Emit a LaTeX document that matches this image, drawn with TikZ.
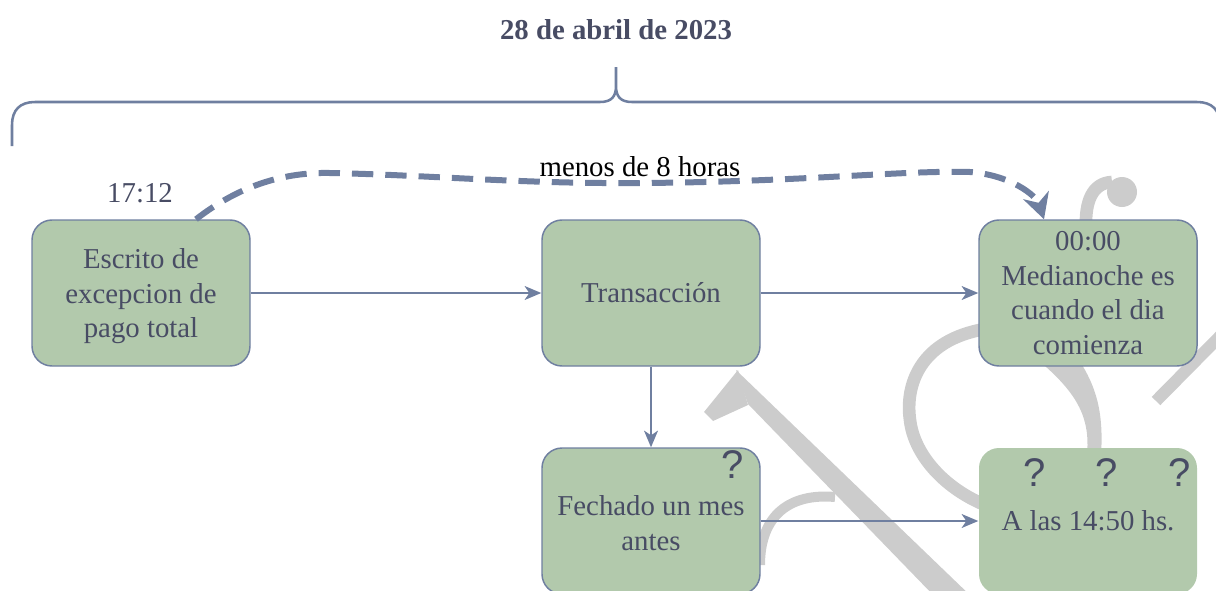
\documentclass[tikz,border=0pt]{standalone}
\usepackage{fontspec}
\setmainfont{Liberation Serif}
\newfontfamily\qfont{Liberation Sans}
\usetikzlibrary{arrows.meta,calc}
\definecolor{boxfill}{RGB}{178,201,172}
\definecolor{edgec}{RGB}{111,127,160}
\definecolor{txtc}{RGB}{72,76,100}
\definecolor{wm}{RGB}{204,204,204}
\begin{document}
\begin{tikzpicture}[x=0.75pt,y=-0.75pt,
  box/.style={draw=edgec, line width=1.1pt, fill=boxfill, rounded corners=15pt,
    minimum width=163.5pt, minimum height=109.5pt, inner sep=0pt, align=center,
    text=txtc, font=\fontsize{21.6}{25.8}\selectfont},
  conn/.style={draw=edgec, line width=1.1pt, -{Stealth[length=12.5pt,width=10.5pt,inset=3.5pt]}},
  dashline/.style={draw=edgec, line width=4.5pt, dash pattern=on 16pt off 9pt,
    -{Stealth[length=19pt,width=20pt,inset=6pt]}},
  bracestyle/.style={draw=edgec, line width=1.9pt},
  lbl/.style={font=\fontsize{21.6}{25}\selectfont, inner sep=0pt},
  qmark/.style={font=\qfont\fontsize{30}{30}\selectfont, text=txtc, inner sep=0pt}]
\useasboundingbox (0,0) rectangle (1216,590);
% watermark
\fill[wm] (736,370) -- (975,600) -- (938,600) -- (748,404) -- cycle;
\fill[wm] (738,370) -- (748,405) -- (713,421) -- (704,412) -- cycle;
\draw[wm, line width=7.5pt] (760,565) .. controls (760,515) and (790,493) .. (835,497);
\draw[wm, line width=9.5pt] (985,329) .. controls (920,340) and (905,385) .. (910,420)
  .. controls (914,455) and (945,490) .. (990,507);
\fill[wm] (1038,360) -- (1079,360) .. controls (1095,385) and (1104,410) .. (1101,455)
  -- (1087,455) .. controls (1090,420) and (1080,395) .. cycle;
\fill[wm] (1122,192) circle[radius=15];
\draw[wm, line width=9.5pt] (1112,182) .. controls (1092,183) and (1085,202) .. (1086,228);
\draw[wm, line width=9pt] (1156,401) -- (1235,321);
% title and brace
\node[font=\bfseries\fontsize{21.6}{25}\selectfont, text=txtc, inner sep=0pt] (title) at (616,30) {28 de abril de 2023};
\draw[bracestyle] (12,146) -- (12,125) .. controls (12,110) and (20,102) .. (35,102) -- (600,102)
  .. controls (612,102) and (616,96) .. (616,86) -- (616,67) -- (616,86)
  .. controls (616,96) and (620,102) .. (632,102) -- (1197,102)
  .. controls (1212,102) and (1220,110) .. (1220,125) -- (1220,146);
% boxes
\node[box] (esc) at (141,293) {\rule{0pt}{20pt}Escrito de\\excepcion de\\pago total};
\node[box] (tra) at (651,293) {Transacción};
\node[box] (med) at (1088,293) {00:00\\Medianoche es\\cuando el dia\\comienza};
\node[box] (fec) at (651,521) {\rule{0pt}{18pt}Fechado un mes\\antes};
\node[box, draw=none] (las) at (1088,521) {A las 14:50 hs.};
% question marks
\node[qmark] (q0) at (733,465) {?};
\node[qmark] (q1) at (1035,473) {?};
\node[qmark] (q2) at (1107,473) {?};
\node[qmark] (q3) at (1180,473) {?};
% labels
\node[lbl, text=txtc] (t1712) at (140,193) {17:12};
\node[lbl] (menos) at (640,167) {menos de 8 horas};
% connectors
\draw[conn] (esc) -- (tra);
\draw[conn] (tra) -- (med);
\draw[conn] (tra) -- (fec);
\draw[conn] (fec) -- (las);
\draw[dashline] ($(esc.north)+(55,0)$) .. controls (240,185) and (285,172) .. (330,173)
  .. controls (430,175) and (520,184) .. (640,183)
  .. controls (800,182) and (905,170) .. (970,172)
  .. controls (1010,175) and (1036,195) .. ($(med.north)+(-44,0)$);
\end{tikzpicture}
\end{document}
